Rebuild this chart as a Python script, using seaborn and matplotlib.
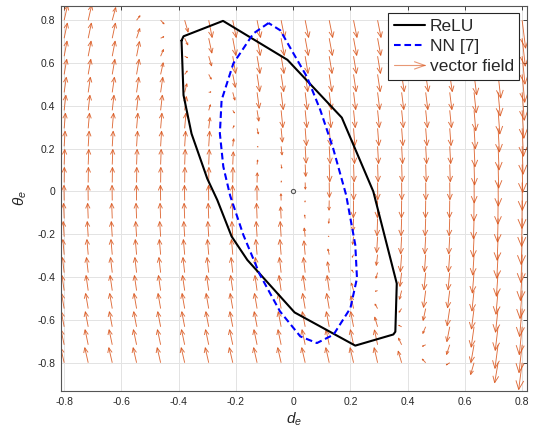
import numpy as np
import pandas as pd
import matplotlib
matplotlib.use('Agg')
import matplotlib.pyplot as plt
import seaborn as sns
from matplotlib.collections import LineCollection
from matplotlib.lines import Line2D
from matplotlib.legend_handler import HandlerBase

# -----------------------------
# Data
# -----------------------------

# arrow tails of the vector field (same grid in both directions)
d_grid = [-0.800, -0.716, -0.632, -0.547, -0.463, -0.379, -0.295, -0.211, -0.126, -0.042,
          0.042, 0.126, 0.211, 0.295, 0.379, 0.463, 0.547, 0.632, 0.716, 0.800]
theta_grid = [-0.800, -0.716, -0.632, -0.547, -0.463, -0.379, -0.295, -0.211, -0.126, -0.042,
              0.042, 0.126, 0.211, 0.295, 0.379, 0.463, 0.547, 0.632, 0.716, 0.800]

# horizontal arrow component per row (x1e-3), bottom row first
u_rows = [-12, -11, -10, -9, -7.5, -6, -4.5, -3.3, -2, -0.7,
          0.7, 2, 3.3, 4.5, 6, 7.5, 9, 10, 11, 12]

# vertical arrow component (x1e-3), one row per theta, bottom row first
v_rows = [
    [70, 70, 70, 70, 70, 70, 70, 70, 70, 70, 70, 70, 70, 70, 54, 17, -10, -55, -93, -125],
    [70, 70, 70, 70, 70, 70, 70, 70, 70, 70, 70, 70, 70, 69, 31, -7, -45, -83, -110, -130],
    [70, 70, 70, 70, 70, 70, 70, 70, 70, 70, 70, 70, 70, 45, 7, -31, -69, -95, -110, -130],
    [70, 70, 70, 70, 70, 70, 70, 70, 70, 70, 70, 70, 59, 21, -17, -55, -80, -95, -110, -130],
    [70, 70, 70, 70, 70, 70, 70, 70, 70, 70, 70, 70, 35, -3, -40, -78, -80, -95, -110, -130],
    [70, 70, 70, 70, 70, 70, 70, 70, 70, 70, 70, 50, 12, -26, -64, -80, -80, -95, -110, -130],
    [70, 70, 70, 70, 70, 70, 70, 70, 70, 70, 64, 26, -12, -50, -80, -80, -80, -95, -110, -130],
    [70, 70, 70, 70, 70, 70, 70, 70, 70, 70, 40, 2, -36, -74, -80, -80, -80, -95, -110, -130],
    [70, 70, 70, 70, 70, 70, 70, 70, 70, 54, 16, -22, -59, -80, -80, -80, -80, -95, -110, -130],
    [70, 70, 70, 70, 70, 70, 70, 70, 69, 31, -7, -45, -80, -80, -80, -80, -80, -95, -110, -130],
    [70, 70, 70, 70, 70, 70, 70, 70, 45, 7, -31, -69, -80, -80, -80, -80, -80, -95, -110, -130],
    [70, 70, 70, 70, 70, 70, 70, 59, 21, -17, -55, -80, -80, -80, -80, -80, -80, -95, -110, -130],
    [70, 70, 70, 70, 70, 70, 70, 35, -3, -40, -78, -80, -80, -80, -80, -80, -80, -95, -110, -130],
    [70, 70, 70, 70, 70, 70, 50, 12, -26, -64, -80, -80, -80, -80, -80, -80, -80, -95, -110, -130],
    [70, 70, 70, 70, 70, 64, 26, -12, -50, -80, -80, -80, -80, -80, -80, -80, -80, -95, -110, -130],
    [70, 70, 70, 70, 70, 40, 2, -36, -74, -80, -80, -80, -80, -80, -80, -80, -80, -95, -110, -130],
    [70, 70, 70, 70, 54, 16, -22, -60, -80, -80, -80, -80, -80, -80, -80, -80, -80, -95, -110, -130],
    [70, 70, 70, 68, 31, -7, -45, -80, -80, -80, -80, -80, -80, -80, -80, -80, -80, -95, -110, -130],
    [70, 70, 70, 45, 7, -31, -69, -80, -80, -80, -80, -80, -80, -80, -80, -80, -80, -95, -110, -130],
    [70, 70, 59, 21, -17, -55, -80, -80, -80, -80, -80, -80, -80, -80, -80, -80, -80, -95, -110, -130],
]

# ReLU invariant set boundary
relu_d = [-0.390, -0.383, -0.245, -0.020, 0.170, 0.280, 0.362, 0.357, 0.350, 0.217,
          0.005, -0.160, -0.215, -0.265, -0.300, -0.355, -0.383, -0.390]
relu_theta = [0.705, 0.725, 0.797, 0.615, 0.345, 0.000, -0.430, -0.655, -0.668, -0.720,
              -0.565, -0.320, -0.210, -0.040, 0.060, 0.270, 0.450, 0.705]

# NN [7] boundary
nn_d = [-0.086, -0.139, -0.209, -0.250, -0.256, -0.244, -0.220, -0.174, -0.116, -0.046,
        0.025, 0.083, 0.141, 0.200, 0.223, 0.217, 0.185, 0.140, 0.095, 0.048,
        0.001, -0.045, -0.086]
nn_theta = [0.787, 0.738, 0.598, 0.427, 0.271, 0.116, -0.020, -0.203, -0.389, -0.560,
            -0.677, -0.708, -0.669, -0.545, -0.405, -0.249, -0.016, 0.200, 0.380, 0.536,
            0.645, 0.753, 0.787]

arrow_color = '#D95319'

# -----------------------------
# Style
# -----------------------------
sns.set_style('white')
plt.rcParams['font.family'] = ['Liberation Sans', 'DejaVu Sans']
plt.rcParams['mathtext.fontset'] = 'custom'
plt.rcParams['mathtext.rm'] = 'Liberation Sans'
plt.rcParams['mathtext.it'] = 'Liberation Sans:italic'

fig = plt.figure(figsize=(5.35, 4.34), dpi=100)
ax = fig.add_axes([0.1135, 0.0991, 0.8721, 0.8878])

# -----------------------------
# Vector field (MATLAB-like open arrow heads)
# -----------------------------
X, Y = np.meshgrid(d_grid, theta_grid)
U = np.repeat(np.array(u_rows)[:, None], len(d_grid), axis=1) / 1000.0
V = np.array(v_rows) / 1000.0
x, y, u, v = X.ravel(), Y.ravel(), U.ravel(), V.ravel()
a, b = 0.33, 0.33
segs = []
for xi, yi, ui, vi in zip(x, y, u, v):
    tx, ty = xi + ui, yi + vi
    segs.append([(xi, yi), (tx, ty)])
    segs.append([(tx - a * (ui + b * vi), ty - a * (vi - b * ui)), (tx, ty),
                 (tx - a * (ui - b * vi), ty - a * (vi + b * ui))])
ax.add_collection(LineCollection(segs, colors=arrow_color, linewidths=0.65, alpha=0.85, zorder=2))

# -----------------------------
# Boundaries
# -----------------------------
relu_df = pd.DataFrame({'d': relu_d, 'theta': relu_theta})
nn_df = pd.DataFrame({'d': nn_d, 'theta': nn_theta})
sns.lineplot(data=relu_df, x='d', y='theta', sort=False, estimator=None,
             color='black', linewidth=1.5, ax=ax, zorder=3)
sns.lineplot(data=nn_df, x='d', y='theta', sort=False, estimator=None,
             color='#0000FF', linewidth=1.5, linestyle=(0, (3.2, 1.8)), ax=ax, zorder=3)
ax.plot([0], [0], marker='o', ms=3, mfc='none', mec='#555555', mew=0.8, zorder=4)

# -----------------------------
# Axes
# -----------------------------
ax.set_xlim(-0.812, 0.818)
ax.set_ylim(-0.932, 0.868)
ticks = [-0.8, -0.6, -0.4, -0.2, 0, 0.2, 0.4, 0.6, 0.8]
ax.set_xticks(ticks)
ax.set_yticks(ticks)
ax.set_xticklabels(['-0.8', '-0.6', '-0.4', '-0.2', '0', '0.2', '0.4', '0.6', '0.8'])
ax.set_yticklabels(['-0.8', '-0.6', '-0.4', '-0.2', '0', '0.2', '0.4', '0.6', '0.8'])
ax.grid(True, color='#E3E3E3', linewidth=0.7)
ax.set_axisbelow(True)
ax.tick_params(direction='in', length=3, width=0.6, top=True, right=True,
               labelsize=7.5, colors='#262626', pad=4)
for s in ax.spines.values():
    s.set_color('#555555')
    s.set_linewidth(0.8)
ax.set_xlabel('$d_e$', fontsize=11, color='#262626', labelpad=3)
ax.set_ylabel(r'$\theta_e$', fontsize=11, color='#262626', labelpad=6)


# legend entry that looks like a quiver arrow
class ArrowHandler(HandlerBase):
    def create_artists(self, legend, orig_handle, xdescent, ydescent, width, height, fontsize, trans):
        yc = height / 2 - ydescent
        x0, x1 = -xdescent, width - xdescent
        hl = 0.33 * width
        shaft = Line2D([x0, x1], [yc, yc], color=arrow_color, lw=0.8, alpha=0.6)
        head = Line2D([x1 - hl, x1, x1 - hl], [yc + 0.3 * height, yc, yc - 0.3 * height],
                      color=arrow_color, lw=0.8, alpha=0.6)
        shaft.set_transform(trans)
        head.set_transform(trans)
        return [shaft, head]


arrow_proxy = object()
handles = [Line2D([], [], color='black', lw=1.5),
           Line2D([], [], color='#0000FF', lw=1.5, linestyle=(0, (3.2, 1.8))),
           arrow_proxy]
leg = ax.legend(handles, ['ReLU', 'NN [7]', 'vector field'],
                handler_map={arrow_proxy: ArrowHandler()},
                loc='upper right', bbox_to_anchor=(0.983, 0.980), borderaxespad=0,
                fontsize=12.5, labelspacing=0.3, handlelength=1.8, handletextpad=0.3,
                borderpad=0.3, fancybox=False, framealpha=1, edgecolor='#262626')
leg.get_frame().set_linewidth(0.8)
leg.set_zorder(10)

plt.savefig('out.png', dpi=100)
